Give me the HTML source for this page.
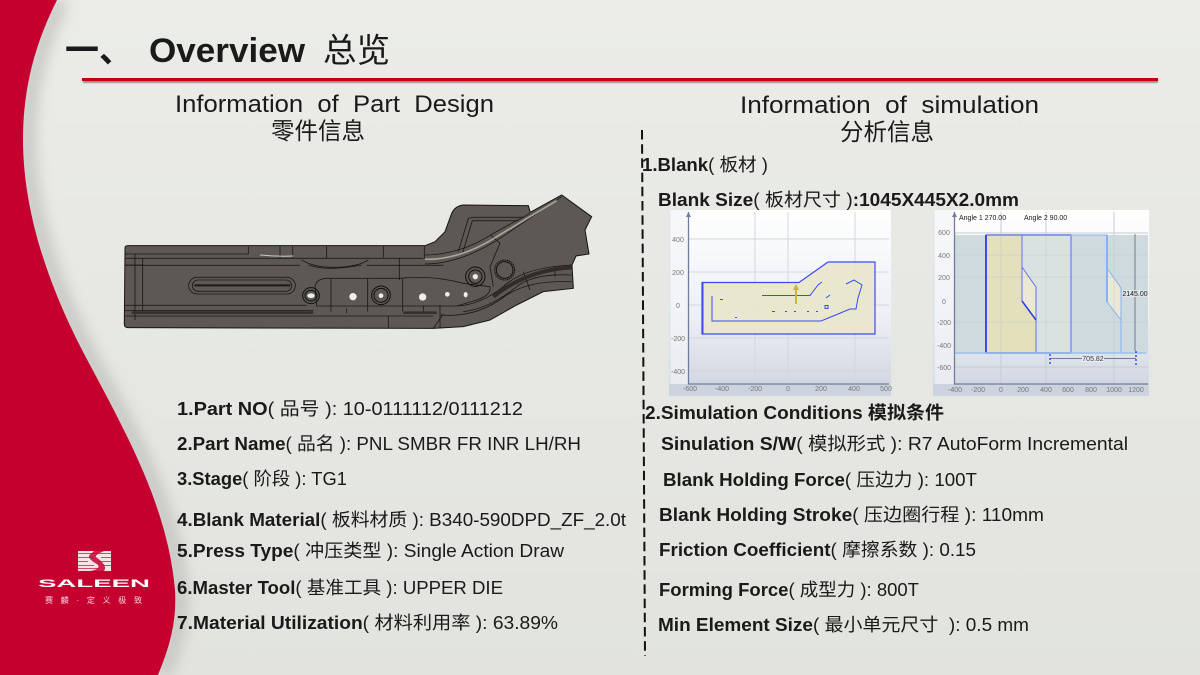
<!DOCTYPE html>
<html><head><meta charset="utf-8"><style>
html,body{margin:0;padding:0;width:1200px;height:675px;overflow:hidden;background:#e6e7e2}
svg{display:block}
text{font-family:"Liberation Sans","Noto Sans CJK SC",sans-serif;fill:#1a1a1a;white-space:pre}
.b{font-weight:bold}
.l{font-size:18px}
.t{font-size:7px;fill:#777;text-anchor:middle}
</style></head><body>
<svg width="1200" height="675" viewBox="0 0 1200 675" xmlns="http://www.w3.org/2000/svg">
<defs>
<linearGradient id="bg" x1="0" y1="0" x2="0" y2="1"><stop offset="0" stop-color="#ebece8"/><stop offset="1" stop-color="#e2e3de"/></linearGradient>
<linearGradient id="p" x1="0" y1="0" x2="0" y2="1"><stop offset="0" stop-color="#fff"/><stop offset=".6" stop-color="#eceef4"/><stop offset="1" stop-color="#cdd3df"/></linearGradient>
<linearGradient id="pl" x1="0" y1="0" x2="1" y2="0"><stop offset="0" stop-color="#d0d5e0"/><stop offset=".12" stop-color="#f3f4f7"/></linearGradient>
<filter id="bl" x="-30%" y="-5%" width="160%" height="110%"><feGaussianBlur stdDeviation="8"/></filter>
<filter id="sh"><feGaussianBlur stdDeviation=".7"/></filter>
<filter id="tb"><feGaussianBlur stdDeviation=".35"/></filter>
</defs>
<rect width="1200" height="675" fill="url(#bg)"/>
<path d="M57,0C38,38 24,80 23,135C22,215 52,295 90,365C130,440 168,510 175,590C177,625 168,650 158,675" fill="none" stroke="#b9bab6" stroke-width="12" filter="url(#bl)" transform="translate(4,0)"/>
<path d="M0,0H57C38,38 24,80 23,135C22,215 52,295 90,365C130,440 168,510 175,590C177,625 168,650 158,675H0Z" fill="#c5002f"/>

<text x="65" y="62" class="b" style="font-size:34px">一、</text>
<text x="149" y="62" class="b" style="font-size:34px" textLength="156" lengthAdjust="spacingAndGlyphs">Overview</text>
<text x="323" y="62" style="font-size:33.5px">总览</text>
<rect x="83" y="80" width="1075" height="3" fill="#8d8d8a" filter="url(#sh)"/>
<rect x="82" y="78" width="1076" height="3" fill="#c40008"/>

<text x="175" y="112" style="font-size:24px" textLength="319" lengthAdjust="spacingAndGlyphs">Information  of  Part  Design</text>
<text x="271" y="139" style="font-size:23.5px">零件信息</text>
<text x="740" y="113" style="font-size:24px" textLength="299" lengthAdjust="spacingAndGlyphs">Information  of  simulation</text>
<text x="840" y="140" style="font-size:23.5px">分析信息</text>

<line x1="642" y1="130" x2="645" y2="656" stroke="#111" stroke-width="2" stroke-dasharray="9.500 4.700"/>

<!-- part -->
<g transform="translate(100,180) scale(.33333)">
<path d="M75,203Q76,197 85,197L975,197L1005,185L1035,155L1055,100Q1065,78 1090,75L1285,77L1291,97L1385,45L1475,110L1455,150L1467,222L1428,228L1416,255L1420,325L1330,335L1250,375L1170,420L1090,440L1000,445L85,443Q73,443 73,432Z" fill="#5d5853" stroke="#151515" stroke-width="3"/>
<g fill="none" stroke="#1a1a1a" stroke-width="2.500">
<path d="M75,222H445M445,197V222M540,197V235M578,197V235M680,197V235M850,197V235M973,197V235M75,235H970M75,256H600M800,256H1030M105,222V420M128,235V392M75,376H620M75,392H640M75,408H900M75,255H130"/>
<path d="M605,240Q640,262 700,262Q770,262 805,240M625,255Q680,275 785,255"/>
<rect x="266" y="292" width="320" height="50" rx="25"/>
<rect x="277" y="300" width="298" height="34" rx="17"/>
<path d="M645,320Q650,296 680,295H900Q1000,285 1090,310L1170,320Q1175,345 1130,360L1070,378H650Z"/>
<path d="M693,295V395M803,295V395M908,295V395M898,235V300M1020,375V445M865,408V443M970,376V400M740,385V400"/>
<path d="M975,225Q1080,225 1180,160L1290,100M975,252Q1080,252 1200,175L1385,50"/>
<path d="M1075,215L1105,115L1120,112H1270M1087,222L1117,122H1255M1172,165L1200,190L1170,260L1180,320"/>
<path d="M1070,378Q1140,375 1210,320Q1270,262 1415,255M1090,395Q1170,385 1250,320Q1300,280 1415,285M1020,405Q1130,415 1220,345Q1290,300 1415,305M1270,275L1290,330M1365,258V290"/>
<path d="M900,408H1000M1000,445L1030,402"/>
</g>
<path d="M480,225Q530,230 580,228" stroke="#c9c8c2" stroke-width="3" fill="none"/>
<path d="M975,238Q1080,240 1190,170L1370,62" stroke="#a9a59d" stroke-width="5" fill="none"/>
<path d="M95,398H640M910,398H1010" stroke="#33302d" stroke-width="8" fill="none"/>
<path d="M283,316H570" stroke="#1a1a1a" stroke-width="6"/>
<path d="M1180,350Q1280,270 1415,262" stroke="#2f2c2a" stroke-width="12" fill="none"/>
<g fill="none" stroke="#111" stroke-width="3">
<circle cx="1214" cy="270" r="30" stroke-dasharray="5 2"/><circle cx="1214" cy="270" r="25"/>
<ellipse cx="633" cy="347" rx="25" ry="24"/><ellipse cx="633" cy="347" rx="18" ry="16"/>
<circle cx="843" cy="346" r="28"/><circle cx="843" cy="346" r="21"/>
<circle cx="1126" cy="290" r="29"/><circle cx="1126" cy="290" r="20"/>
</g>
<g fill="#eeeeea">
<ellipse cx="633" cy="347" rx="11" ry="7"/><circle cx="843" cy="347" r="7"/><circle cx="1126" cy="290" r="8"/>
<circle cx="759" cy="350" r="11"/><circle cx="968" cy="351" r="11"/><circle cx="1042" cy="343" r="7"/><ellipse cx="1097" cy="344" rx="6" ry="8"/>
</g>
</g>

<!-- left list -->
<text class="l" x="177" y="415" textLength="346" lengthAdjust="spacingAndGlyphs"><tspan class="b">1.Part NO</tspan>( 品号 ): 10-0111112/0111212</text>
<text class="l" x="177" y="450" textLength="404" lengthAdjust="spacingAndGlyphs"><tspan class="b">2.Part Name</tspan>( 品名 ): PNL SMBR FR INR LH/RH</text>
<text class="l" x="177" y="485" textLength="170" lengthAdjust="spacingAndGlyphs"><tspan class="b">3.Stage</tspan>( 阶段 ): TG1</text>
<text class="l" x="177" y="526" textLength="449" lengthAdjust="spacingAndGlyphs"><tspan class="b">4.Blank Material</tspan>( 板料材质 ): B340-590DPD_ZF_2.0t</text>
<text class="l" x="177" y="557" textLength="387" lengthAdjust="spacingAndGlyphs"><tspan class="b">5.Press Type</tspan>( 冲压类型 ): Single Action Draw</text>
<text class="l" x="177" y="594" textLength="326" lengthAdjust="spacingAndGlyphs"><tspan class="b">6.Master Tool</tspan>( 基准工具 ): UPPER DIE</text>
<text class="l" x="177" y="629" textLength="381" lengthAdjust="spacingAndGlyphs"><tspan class="b">7.Material Utilization</tspan>( 材料利用率 ): 63.89%</text>

<!-- right list -->
<text class="l" x="642" y="171" textLength="126" lengthAdjust="spacingAndGlyphs"><tspan class="b">1.Blank</tspan>( 板材 )</text>
<text class="l" x="658" y="206" textLength="361" lengthAdjust="spacingAndGlyphs"><tspan class="b">Blank Size</tspan>( 板材尺寸 )<tspan class="b">:1045X445X2.0mm</tspan></text>
<text class="l b" x="645" y="419" textLength="299" lengthAdjust="spacingAndGlyphs">2.Simulation Conditions 模拟条件</text>
<text class="l" x="661" y="450" textLength="467" lengthAdjust="spacingAndGlyphs"><tspan class="b">Sinulation S/W</tspan>( 模拟形式 ): R7 AutoForm Incremental</text>
<text class="l" x="663" y="486" textLength="314" lengthAdjust="spacingAndGlyphs"><tspan class="b">Blank Holding Force</tspan>( 压边力 ): 100T</text>
<text class="l" x="659" y="521" textLength="385" lengthAdjust="spacingAndGlyphs"><tspan class="b">Blank Holding Stroke</tspan>( 压边圈行程 ): 110mm</text>
<text class="l" x="659" y="556" textLength="317" lengthAdjust="spacingAndGlyphs"><tspan class="b">Friction Coefficient</tspan>( 摩擦系数 ): 0.15</text>
<text class="l" x="659" y="596" textLength="260" lengthAdjust="spacingAndGlyphs"><tspan class="b">Forming Force</tspan>( 成型力 ): 800T</text>
<text class="l" x="658" y="631" textLength="371" lengthAdjust="spacingAndGlyphs"><tspan class="b">Min Element Size</tspan>( 最小单元尺寸  ): 0.5 mm</text>

<!-- chart 1 -->
<rect x="669" y="210" width="222" height="186" fill="url(#p)"/>
<rect x="669" y="210" width="19" height="186" fill="url(#pl)" opacity=".7"/>
<rect x="669" y="384" width="222" height="12" fill="#ccd2de"/>
<path d="M688,239H889M688,272H889M688,305H889M688,338H889M688,371H889M755,212V384M788,212V384M855,212V384" stroke="#d4d6da" stroke-width="1"/>
<path d="M702,282.500H799L828,262H875V334H702Z" fill="#e9e6cb" fill-opacity=".92" stroke="#3c4bf0" stroke-width="1.200"/>
<path d="M702.500,282V334" stroke="#3c4bf0" stroke-width="2"/>
<g fill="none" stroke="#3c4bf0" stroke-width="1">
<path d="M712,296V321H821L838,314L850,309H856L858,298L862,285L854,280L846,284"/>
<path d="M762,295.500H810L818,285L822,282"/>
<path d="M720,299.500H723M735,317.500H737M772,311.500H775M785,311.500H787M794,311.500H796M807,311.500H809M816,311.500H818M826,298L830,295M825,305.500h3v3h-3z"/>
</g>
<rect x="795" y="290" width="2" height="14" fill="#c9b53a"/><path d="M793,290L796,284L799,290Z" fill="#c9b53a"/>
<path d="M688.500,212V384H889" stroke="#6e7d9c" stroke-width="1.300" fill="none"/>
<path d="M686,217L688.500,212L691,217Z" fill="#6e7d9c"/>
<g filter="url(#tb)"><text class="t" x="678" y="242">400</text><text class="t" x="678" y="275">200</text><text class="t" x="678" y="308">0</text><text class="t" x="678" y="341">-200</text><text class="t" x="678" y="374">-400</text><text class="t" x="690" y="391">-600</text><text class="t" x="722" y="391">-400</text><text class="t" x="755" y="391">-200</text><text class="t" x="788" y="391">0</text><text class="t" x="821" y="391">200</text><text class="t" x="854" y="391">400</text><text class="t" x="886" y="391">500</text></g>

<!-- chart 2 -->
<rect x="933" y="210" width="216" height="186" fill="url(#p)"/>
<rect x="933" y="210" width="22" height="186" fill="url(#pl)" opacity=".7"/>
<rect x="933" y="384" width="216" height="12" fill="#ccd2de"/>
<path d="M955,233H1148M955,367H1148M1001,212V384M1046,212V384M1114,212V384" stroke="#c5ccd2" stroke-width="1"/>
<rect x="955" y="235" width="193" height="118" fill="#cfdadf"/>
<rect x="986" y="235" width="85" height="118" fill="#d9e2e1"/>
<path d="M986,235H1022V301.500L1036,320V353H986Z" fill="#e4e0bb"/>
<path d="M1022,267L1036,287V320L1022,301Z" fill="#ebe8d6"/>
<path d="M1107,268L1121,288V321L1107,302Z" fill="#ebe8d6"/>
<path d="M955,255H1148M955,277H1148M955,322H1148M1001,235V353M1046,235V353M1114,235V353" stroke="#bfc9cd" stroke-width="1" opacity=".5"/>
<g fill="none">
<path d="M986,235H1071V353H986Z" stroke="#5f86ee" stroke-width="1.200"/>
<path d="M986,235H1071" stroke="#8c9be0" stroke-width="2"/>
<path d="M986,235V353" stroke="#3c4bf0" stroke-width="2"/>
<path d="M986,353H1071" stroke="#3c4bf0" stroke-width="1.500"/>
<path d="M1022,235V301L1036,320V353M1022,267L1036,287V320" stroke="#5f72f0" stroke-width="1"/>
<path d="M1022,301L1036,320" stroke="#2d3de8" stroke-width="1.500"/>
<path d="M1071,235H1107V302L1121,320V353M1107,268L1121,288V320" stroke="#86b2ee" stroke-width="1"/>
<path d="M1107,235V302" stroke="#86b2ee" stroke-width="2"/>
<path d="M955,353H1146" stroke="#9cc0ee" stroke-width="1.500"/>
<path d="M1135,234V351M1050,358.500H1136" stroke="#6f7c92" stroke-width="1"/>
<path d="M1050,354V365M1136,351V365" stroke="#3c4bf0" stroke-width="1.500" stroke-dasharray="2 2"/>
<path d="M954.500,212V384H1148" stroke="#6e7d9c" stroke-width="1.300"/>
</g>
<path d="M952,217L954.500,212L957,217Z" fill="#6e7d9c"/>
<rect x="1082" y="356" width="22" height="6" fill="#eaedf3"/>
<rect x="1122" y="290" width="26" height="7" fill="#dfe5e8"/>
<g filter="url(#tb)">
<text class="t" x="1093" y="361" style="fill:#333">705.82</text>
<text x="1135" y="296" style="font-size:7px;text-anchor:middle">2145.00</text>
<text x="959" y="220" style="font-size:7px">Angle 1 270.00</text><text x="1024" y="220" style="font-size:7px">Angle 2 90.00</text>
<text class="t" x="944" y="235">600</text><text class="t" x="944" y="258">400</text><text class="t" x="944" y="280">200</text><text class="t" x="944" y="304">0</text><text class="t" x="944" y="325">-200</text><text class="t" x="944" y="348">-400</text><text class="t" x="944" y="370">-600</text><text class="t" x="955" y="392">-400</text><text class="t" x="978" y="392">-200</text><text class="t" x="1001" y="392">0</text><text class="t" x="1023" y="392">200</text><text class="t" x="1046" y="392">400</text><text class="t" x="1068" y="392">600</text><text class="t" x="1091" y="392">800</text><text class="t" x="1114" y="392">1000</text><text class="t" x="1136" y="392">1200</text>
</g>

<!-- logo -->
<rect x="78" y="551" width="33" height="20" fill="#f7e3e8"/>
<path d="M78,553.500H111M78,557.500H93M101,557.500H111M78,561.500H88M98,561.500H111M78,565.500H94M103,565.500H111M78,568.500H99" stroke="#d5496c" stroke-width="1"/>
<path d="M92,553C84,557 94,562 98,565C100,568 96,570 90,571H104C108,566 100,560 96,557C95,555 100,553 104,551H94Z" fill="#c5002f" opacity=".85"/>
<text x="38" y="587" class="b" style="font-size:11px;fill:#fff" textLength="112" lengthAdjust="spacingAndGlyphs">SALEEN</text>
<text x="45" y="603" style="font-size:8px;fill:#f5d6dd" textLength="97">赛麟·定义极致</text>
</svg>
</body></html>
